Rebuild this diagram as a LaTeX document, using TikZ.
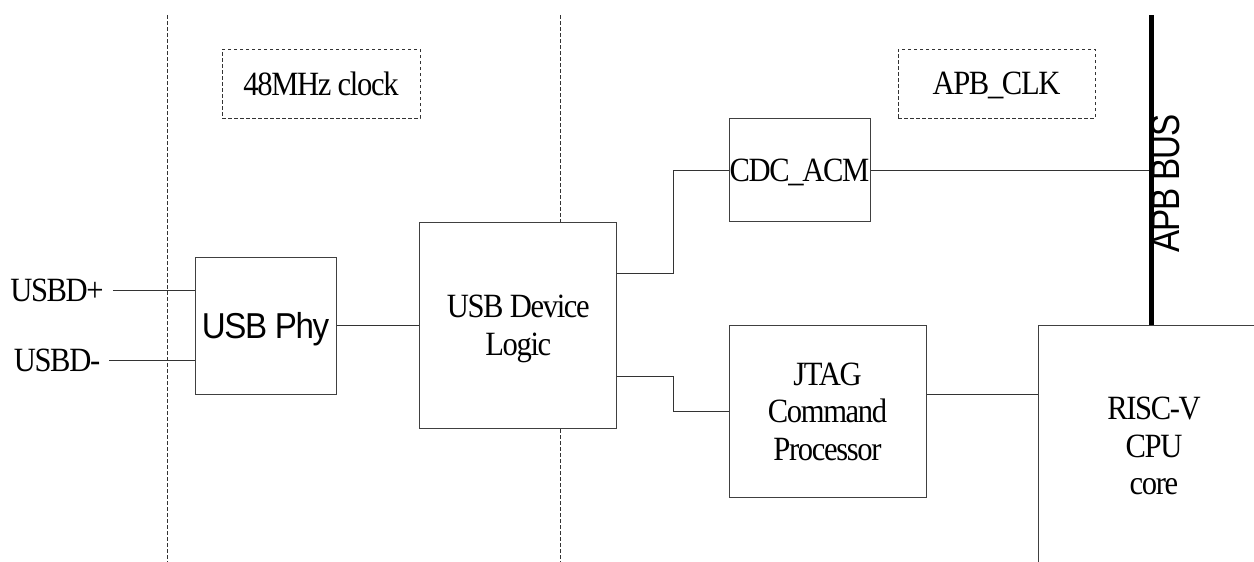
\documentclass[tikz,border=0pt]{standalone}
\usepackage{fontspec}
\newfontfamily\serifc[FakeStretch=0.9,LetterSpace=-4]{Liberation Serif}
\newfontfamily\sansc[FakeStretch=0.92,LetterSpace=-4]{Liberation Sans}
\newfontfamily\sansb[FakeStretch=0.83,LetterSpace=-3]{Liberation Sans}
\begin{document}
\begin{tikzpicture}[x=1pt,y=-1pt,
  serif34/.style={font=\serifc\fontsize{34}{37.5}\selectfont},
  blockbox/.style={draw=black!75, line width=1pt, fill=white, inner sep=0pt,
    align=center, text depth=0pt, serif34},
  clkbox/.style={draw=black!80, line width=0.9pt, dash pattern=on 3.5pt off 2.5pt,
    fill=white, inner sep=0pt, align=center, text depth=0pt, serif34},
  divider/.style={draw=black!80, line width=0.9pt, dash pattern=on 3.5pt off 2.5pt},
  wire/.style={draw=black!80, line width=1pt},
  buswire/.style={draw=black, line width=5pt},
  pinlabel/.style={serif34, inner xsep=9pt, inner ysep=0pt, text depth=0pt}]
\useasboundingbox (0,0) rectangle (1254,562);
\clip (0,0) rectangle (1254,562);
\fill[white] (0,0) rectangle (1254,562);

% clock domain dividers
\coordinate (d1top) at (167,15);
\coordinate (d1bot) at (167,562);
\coordinate (d2top) at (560.7,15);
\coordinate (d2bot) at (560.7,562);
\draw[divider] (d1top) -- (d1bot);
\draw[divider] (d2top) -- (d2bot);

% clock labels
\node[clkbox, minimum width=198pt, minimum height=69pt] (clk48) at (321,83.5) {48MHz clock};
\node[clkbox, minimum width=197pt, minimum height=69pt] (apbclk) at (996.5,83.5) {APB\_CLK};

% blocks
\node[blockbox, minimum width=141pt, minimum height=137pt,
      font=\sansc\fontsize{36}{40}\selectfont] (phy) at (265.5,325.5) {USB Phy};
\node[blockbox, minimum width=196.7pt, minimum height=206pt] (logic) at (518.3,325) {USB Device\\Logic};
\node[blockbox, minimum width=141pt, minimum height=103.3pt] (cdc) at (799.5,170.3) {CDC\_ACM};
\node[blockbox, minimum width=197pt, minimum height=171.7pt] (jtag) at (827.5,411.3) {JTAG\\Command\\Processor};
\node[blockbox, minimum width=232pt, minimum height=242pt] (risc) at (1154,446) {RISC-V\\CPU\\core};

% pin labels
\node[pinlabel] (usbdp) at (57,290) {USBD+};
\node[pinlabel] (usbdm) at (57,360) {USBD-};

% connectors
\draw[wire] (usbdp) -- (phy.west |- usbdp);
\draw[wire] (usbdm) -- (phy.west |- usbdm);
\draw[wire] (phy.east) -- (logic.west |- phy.east);
\coordinate (jog) at (673.3,0);
\draw[wire] (cdc.west) -| (jog |- 0,273.3) -- (logic.east |- 0,273.3);
\draw[wire] (jtag.west) -| (jog |- 0,376.7) -- (logic.east |- 0,376.7);
\draw[wire] (jtag.east |- 0,394.3) -- (risc.west |- 0,394.3);

% APB bus
\coordinate (bustop) at (1151.7,15);
\draw[wire] (cdc.east) -- (cdc.east -| bustop);
\draw[buswire] (bustop) -- (bustop |- risc.north);
\node[rotate=90, inner sep=0pt, font=\sansb\fontsize{40}{44}\selectfont] (apbbus) at (1166,183.5) {APB BUS};
\end{tikzpicture}
\end{document}
